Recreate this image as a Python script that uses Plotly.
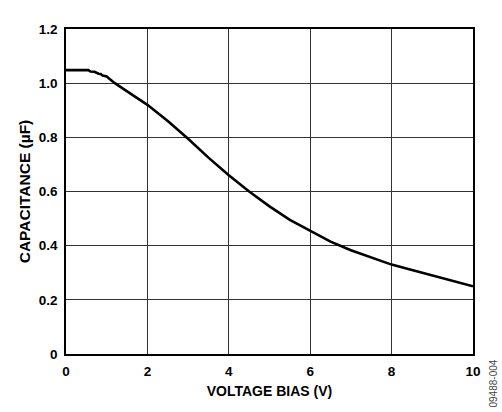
import plotly.graph_objects as go

bias_v = [0, 0.2, 0.4, 0.55, 0.6, 0.7, 0.8, 0.85, 0.9, 1.0, 1.05, 1.1, 1.2, 1.4, 1.6, 1.8,
          2.0, 2.5, 3.0, 3.5, 4.0, 4.5, 5.0, 5.5, 6.0, 6.5, 7.0, 7.5, 8.0, 8.5, 9.0, 9.5, 10.0]
cap_uf = [1.048, 1.048, 1.048, 1.048, 1.043, 1.042, 1.035, 1.034, 1.028, 1.025, 1.018, 1.012,
          1.0, 0.98, 0.96, 0.94, 0.92, 0.86, 0.795, 0.725, 0.66, 0.6, 0.545, 0.495, 0.455,
          0.415, 0.383, 0.355, 0.33, 0.31, 0.29, 0.272, 0.25]

x_ticks = [0, 2, 4, 6, 8, 10]
y_ticks = [0, 0.2, 0.4, 0.6, 0.8, 1.0, 1.2]
y_tick_text = ["0", "0.2", "0.4", "0.6", "0.8", "1.0", "1.2"]

font = dict(family="Liberation Sans, Arial, sans-serif", size=13.5, color="black")

fig = go.Figure()
fig.add_trace(go.Scatter(x=bias_v, y=cap_uf, mode="lines",
                         line=dict(color="black", width=2.6, shape="linear"),
                         hoverinfo="skip", showlegend=False))

fig.update_layout(
    width=502, height=412,
    margin=dict(l=66, r=29, t=29, b=58),
    paper_bgcolor="white", plot_bgcolor="white",
    font=font,
    xaxis=dict(range=[0, 10], tickvals=x_ticks, ticktext=[f"<b>{v}</b>" for v in x_ticks],
               showgrid=True, gridcolor="#333333", gridwidth=1,
               showline=True, linecolor="black", linewidth=1.6, mirror=True,
               zeroline=False, ticks="", ticklen=0, ticklabelstandoff=4,
               title=dict(text="<b>VOLTAGE BIAS (V)</b>", font=dict(size=14), standoff=8)),
    yaxis=dict(range=[0, 1.2], tickvals=y_ticks, ticktext=[f"<b>{t}</b>" for t in y_tick_text],
               showgrid=True, gridcolor="#333333", gridwidth=1,
               showline=True, linecolor="black", linewidth=1.6, mirror=True,
               zeroline=False, ticks="", ticklen=0, ticklabelstandoff=4,
               title=dict(text="<b>CAPACITANCE (µF)</b>", font=dict(size=15.5), standoff=4)),
)

fig.add_annotation(text="09488-004", xref="paper", yref="paper", x=1.0, y=0.0,
                   xanchor="left", yanchor="top", xshift=12, yshift=-4,
                   textangle=-90, showarrow=False,
                   font=dict(family="Liberation Sans, Arial, sans-serif", size=10, color="#444444"))

fig.write_html("out.html")
